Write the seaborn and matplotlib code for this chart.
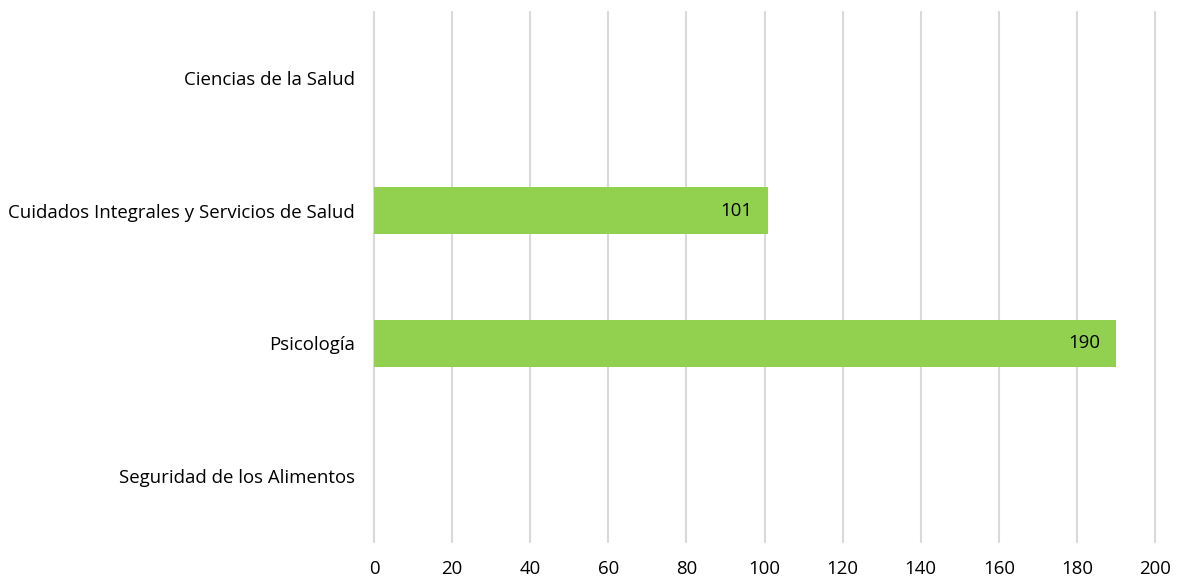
import numpy as np
import pandas as pd
import matplotlib
matplotlib.use("Agg")
import matplotlib.pyplot as plt
import seaborn as sns

categories = ["Ciencias de la Salud", "Cuidados Integrales y Servicios de Salud",
              "Psicología", "Seguridad de los Alimentos"]
values = [0, 101, 190, 0]
x_ticks = [0, 20, 40, 60, 80, 100, 120, 140, 160, 180, 200]

sns.set_theme(style="white")
plt.rcParams['font.family'] = ['Open Sans', 'DejaVu Sans']

df = pd.DataFrame({"cat": categories, "val": values})

fig = plt.figure(figsize=(11.83, 5.81), dpi=100)
ax = fig.add_axes([374/1183, 1-542/581, (1155-374)/1183, (542-12)/581])
sns.barplot(data=df, y="cat", x="val", orient="h", color="#92D050",
            width=0.355, ax=ax, saturation=1, linewidth=0, edgecolor="none")

ax.set_xlim(0, 200)
ax.set_ylim(3.5, -0.5)
ax.set_xticks(x_ticks)
ax.xaxis.grid(True, color="#D9D9D9", linewidth=1.5)
ax.set_axisbelow(True)
for line in ax.get_xgridlines():
    line.set_clip_on(False)
for s in ax.spines.values():
    s.set_visible(False)
ax.set_xlabel("")
ax.set_ylabel("")
ax.tick_params(axis="both", length=0, labelsize=13.4, colors="black")
ax.tick_params(axis="y", pad=14)
ax.tick_params(axis="x", pad=13)

for i, v in enumerate(values):
    if v:
        ax.text(v - 4, i, str(v), ha="right", va="center", fontsize=13.4, color="black")

fig.savefig("out.png", dpi=100)
